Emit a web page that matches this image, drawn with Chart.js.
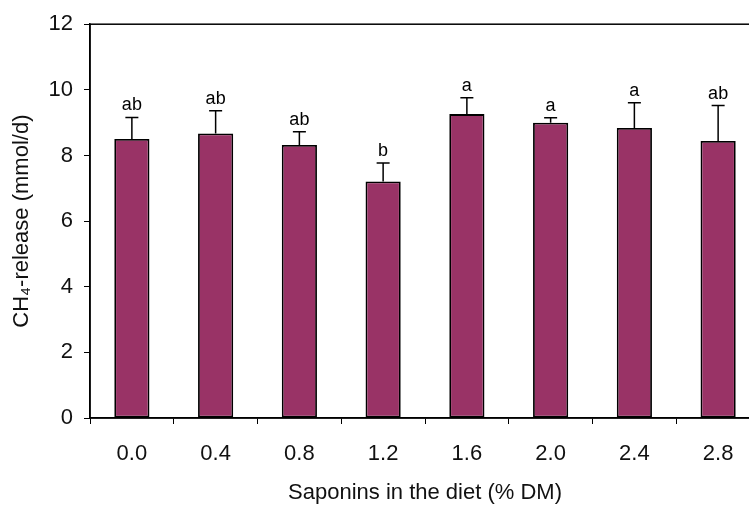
<!DOCTYPE html>
<html>
<head>
<meta charset="utf-8">
<script src="https://cdn.jsdelivr.net/npm/chart.js@4.4.1/dist/chart.umd.min.js"></script>
<style>
  html, body { margin: 0; padding: 0; background: #fff; overflow: hidden; }
  #wrap { width: 765px; height: 506px; }
</style>
</head>
<body>
<div id="wrap"><canvas id="ch4Chart" width="765" height="506"></canvas></div>
<script>
// Chart data
const doses = ['0.0', '0.4', '0.8', '1.2', '1.6', '2.0', '2.4', '2.8'];
const ch4Release = [8.50, 8.67, 8.32, 7.21, 9.26, 9.00, 8.84, 8.44];
const ch4Error = [0.66, 0.69, 0.40, 0.56, 0.50, 0.15, 0.77, 1.08];
const sigLetters = ['ab', 'ab', 'ab', 'b', 'a', 'a', 'a', 'ab'];
const yTicks = [0, 2, 4, 6, 8, 10, 12];

const fontFamily = '"Liberation Sans", Arial, sans-serif';

// upper error bars + significance letters
const errorBarPlugin = {
    id: 'errorBars',
    afterDatasetsDraw(chart) {
        const ctx = chart.ctx;
        const meta = chart.getDatasetMeta(0);
        const yScale = chart.scales.y;
        ctx.save();
        ctx.strokeStyle = '#000';
        ctx.lineWidth = 1.5;
        ctx.fillStyle = '#000';
        ctx.font = '18px ' + fontFamily;
        ctx.textAlign = 'center';
        ctx.textBaseline = 'alphabetic';
        meta.data.forEach(function(bar, i) {
            const yBar = yScale.getPixelForValue(ch4Release[i]);
            const yTop = yScale.getPixelForValue(ch4Release[i] + ch4Error[i]);
            ctx.beginPath();
            ctx.moveTo(bar.x, yBar);
            ctx.lineTo(bar.x, yTop);
            ctx.moveTo(bar.x - 6.5, yTop);
            ctx.lineTo(bar.x + 6.5, yTop);
            ctx.stroke();
            ctx.fillText(sigLetters[i], bar.x, yTop - 7);
        });
        ctx.restore();
    }
};

// top frame line
const framePlugin = {
    id: 'frame',
    afterDraw(chart) {
        const a = chart.chartArea;
        const ctx = chart.ctx;
        ctx.save();
        ctx.strokeStyle = '#000';
        ctx.lineWidth = 1.5;
        ctx.strokeRect(a.left, a.top, a.right - a.left, a.bottom - a.top);
        ctx.restore();
    }
};

document.addEventListener('DOMContentLoaded', function() {
    const ctx = document.getElementById('ch4Chart').getContext('2d');
    new Chart(ctx, {
        type: 'bar',
        data: {
            labels: doses,
            datasets: [{
                data: ch4Release,
                backgroundColor: '#993366',
                borderColor: '#000',
                borderWidth: 1.8,
                borderSkipped: false,
                categoryPercentage: 1.0,
                barPercentage: 0.42
            }]
        },
        options: {
            responsive: false,
            animation: false,
            layout: { padding: { top: 22, right: 5, left: 0, bottom: 0 } },
            plugins: {
                legend: { display: false },
                tooltip: { enabled: false }
            },
            scales: {
                x: {
                    offset: true,
                    grid: {
                        offset: true,
                        drawOnChartArea: false,
                        drawTicks: true,
                        tickLength: 6,
                        color: '#000',
                        lineWidth: 1
                    },
                    border: { color: '#000', width: 1.5 },
                    ticks: {
                        color: '#111',
                        font: { family: fontFamily, size: 22 },
                        padding: 17,
                        maxRotation: 0
                    },
                    title: {
                        display: true,
                        text: 'Saponins in the diet (% DM)',
                        color: '#111',
                        font: { family: fontFamily, size: 22 },
                        padding: { top: 0, bottom: 0 }
                    },
                    afterFit: function(scale) { scale.height = 88; }
                },
                y: {
                    min: 0,
                    max: 12,
                    afterBuildTicks: function(scale) {
                        scale.ticks = yTicks.map(function(v) { return { value: v }; });
                    },
                    grid: {
                        drawOnChartArea: false,
                        drawTicks: true,
                        tickLength: 6,
                        color: '#000'
                    },
                    border: { color: '#000', width: 1.5 },
                    ticks: {
                        color: '#111',
                        font: { family: fontFamily, size: 22 },
                        padding: 11
                    },
                    title: {
                        display: true,
                        text: 'CH\u2084-release (mmol/d)',
                        color: '#111',
                        font: { family: fontFamily, size: 22 },
                        padding: { top: 9, bottom: 0 }
                    },
                    afterFit: function(scale) { scale.width = 90; }
                }
            }
        },
        plugins: [errorBarPlugin, framePlugin]
    });
});
</script>
</body>
</html>
